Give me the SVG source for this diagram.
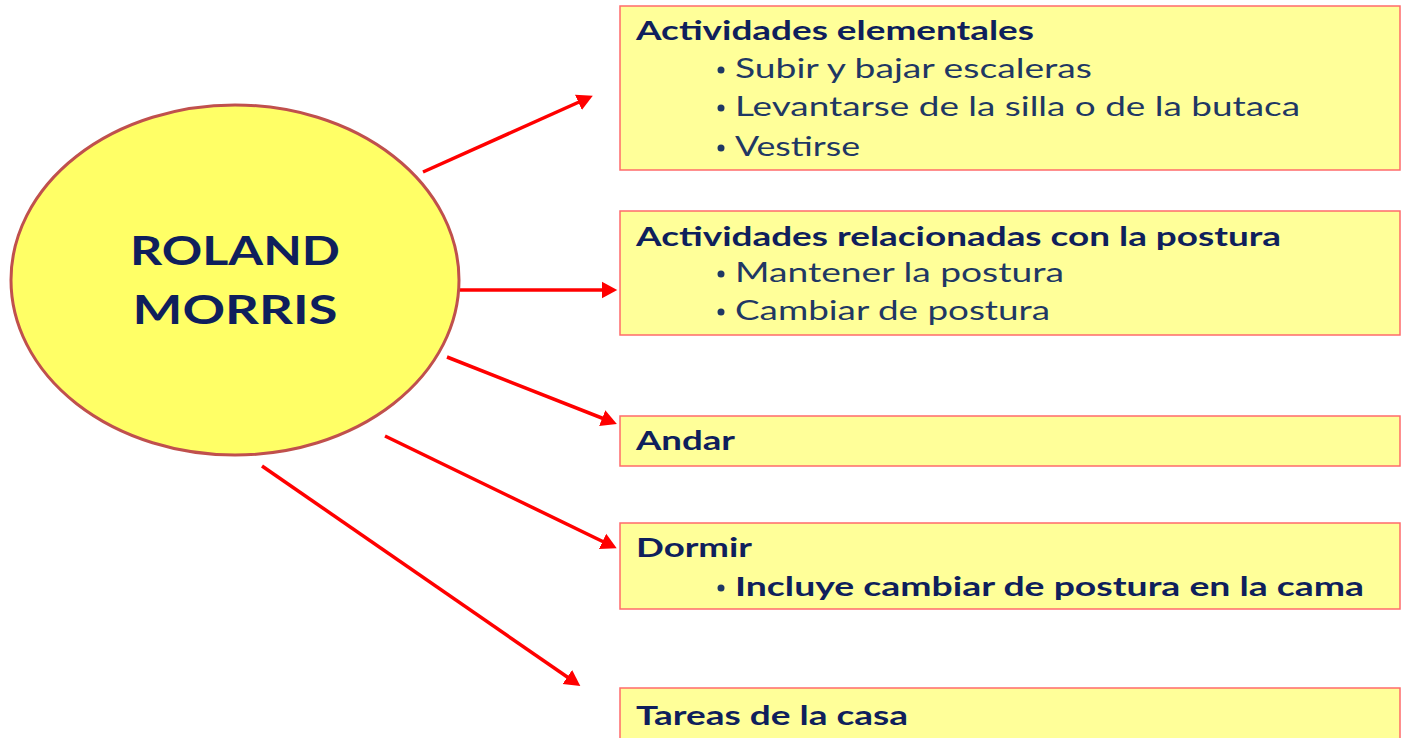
<svg xmlns="http://www.w3.org/2000/svg" width="1406" height="738" viewBox="0 0 1406 738">
<style>
.box{fill:#ffff99;stroke:#ff6b6b;stroke-width:1.5}
.h{font-family:Lato,"Liberation Sans",sans-serif;font-weight:bold;font-size:27px;fill:#0f1f5c}
.b{font-family:Lato,"Liberation Sans",sans-serif;font-size:27px;fill:#1f3864}
.bb{font-family:Lato,"Liberation Sans",sans-serif;font-weight:bold;font-size:27px;fill:#0f1f5c}
.dot{fill:#1f3864}
.c{fill:none;stroke:#ff0000;stroke-width:3.5;marker-end:url(#ah)}
</style>
<defs>
<marker id="ah" markerWidth="6" markerHeight="6" refX="3" refY="3" orient="auto" markerUnits="strokeWidth">
<path d="M0,0.6 L4.5,3 L0,5.4 Z" fill="#ff0000"/>
</marker>
</defs>
<rect width="1406" height="738" fill="#ffffff"/>
<g id="connectors">
<line class="c" x1="423" y1="172" x2="588" y2="98"/>
<line class="c" x1="460" y1="290" x2="612" y2="290"/>
<line class="c" x1="447" y1="357" x2="612" y2="422"/>
<line class="c" x1="385" y1="436" x2="612" y2="546"/>
<line class="c" x1="262" y1="466" x2="576" y2="683"/>
</g>
<g id="roland">
<ellipse cx="235" cy="280" rx="224" ry="175" fill="#ffff66" stroke="#c0504d" stroke-width="3"/>
<text x="235" y="265" text-anchor="middle" font-family="Lato,'Liberation Sans',sans-serif" font-weight="bold" font-size="41" fill="#0f1f5c" textLength="210" lengthAdjust="spacingAndGlyphs">ROLAND</text>
<text x="235" y="324" text-anchor="middle" font-family="Lato,'Liberation Sans',sans-serif" font-weight="bold" font-size="41" fill="#0f1f5c" textLength="205" lengthAdjust="spacingAndGlyphs">MORRIS</text>
</g>
<g id="elementales">
<rect class="box" x="620" y="6" width="780" height="164"/>
<text class="h" x="636" y="40" textLength="398" lengthAdjust="spacingAndGlyphs">Actividades elementales</text>
<circle class="dot" cx="721" cy="70" r="3.5"/>
<text class="b" x="735" y="78" textLength="357" lengthAdjust="spacingAndGlyphs">Subir y bajar escaleras</text>
<circle class="dot" cx="721" cy="108" r="3.5"/>
<text class="b" x="735" y="116" textLength="565" lengthAdjust="spacingAndGlyphs">Levantarse de la silla o de la butaca</text>
<circle class="dot" cx="721" cy="148" r="3.5"/>
<text class="b" x="735" y="156" textLength="125" lengthAdjust="spacingAndGlyphs">Vestirse</text>
</g>
<g id="postura">
<rect class="box" x="620" y="211" width="780" height="124"/>
<text class="h" x="636" y="246" textLength="645" lengthAdjust="spacingAndGlyphs">Actividades relacionadas con la postura</text>
<circle class="dot" cx="721" cy="274" r="3.5"/>
<text class="b" x="735" y="282" textLength="329" lengthAdjust="spacingAndGlyphs">Mantener la postura</text>
<circle class="dot" cx="721" cy="312" r="3.5"/>
<text class="b" x="735" y="320" textLength="315" lengthAdjust="spacingAndGlyphs">Cambiar de postura</text>
</g>
<g id="andar">
<rect class="box" x="620" y="416" width="780" height="50"/>
<text class="h" x="636" y="450" textLength="99" lengthAdjust="spacingAndGlyphs">Andar</text>
</g>
<g id="dormir">
<rect class="box" x="620" y="523" width="780" height="86"/>
<text class="h" x="636" y="557" textLength="116" lengthAdjust="spacingAndGlyphs">Dormir</text>
<circle class="dot" cx="721" cy="588" r="3.5"/>
<text class="bb" x="735" y="596" textLength="629" lengthAdjust="spacingAndGlyphs">Incluye cambiar de postura en la cama</text>
</g>
<g id="tareas">
<rect class="box" x="620" y="688" width="780" height="60"/>
<text class="h" x="636" y="725" textLength="272" lengthAdjust="spacingAndGlyphs">Tareas de la casa</text>
</g>
</svg>
